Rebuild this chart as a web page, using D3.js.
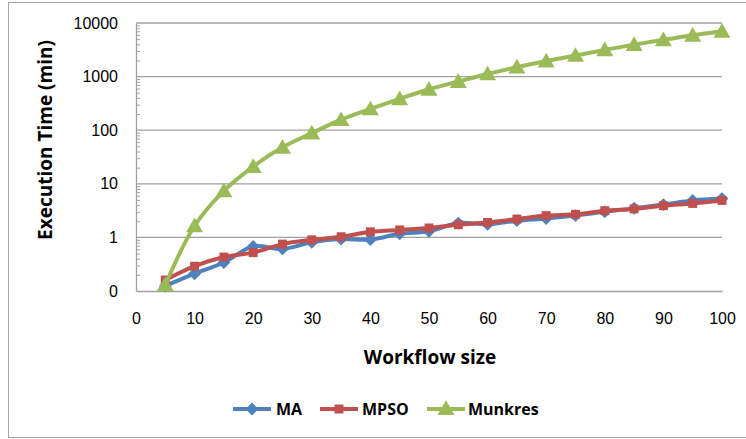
<!DOCTYPE html>
<html>
<head>
<meta charset="utf-8">
<script src="https://cdn.jsdelivr.net/npm/d3@7"></script>
<style>
  html, body { margin: 0; padding: 0; background: #fff; }
  svg { display: block; font-family: "Open Sans", "Liberation Sans", sans-serif; }
</style>
</head>
<body>
<svg id="chart" width="746" height="439"></svg>
<script>
// Workflow sizes on the x axis
const workflowSizes = [5, 10, 15, 20, 25, 30, 35, 40, 45, 50, 55, 60, 65, 70, 75, 80, 85, 90, 95, 100];

// Execution time (minutes) for each algorithm
const maValues      = [0.124, 0.21, 0.34, 0.68, 0.61, 0.81, 0.93, 0.91, 1.17, 1.3, 1.85, 1.75, 2.05, 2.25, 2.55, 3.0, 3.5, 4.1, 4.9, 5.3];
const mpsoValues    = [0.16, 0.29, 0.43, 0.52, 0.75, 0.9, 1.03, 1.27, 1.38, 1.5, 1.72, 1.9, 2.2, 2.55, 2.7, 3.15, 3.4, 3.9, 4.3, 4.9];
const munkresValues = [0.13, 1.65, 7.4, 21, 48, 88, 157, 249, 385, 580, 810, 1120, 1500, 1950, 2480, 3150, 3950, 4850, 5900, 7000];

// Axis ticks
const xTicks = [0, 10, 20, 30, 40, 50, 60, 70, 80, 90, 100];
const yTicks = [0.1, 1, 10, 100, 1000, 10000];
const yTickLabels = ["0", "1", "10", "100", "1000", "10000"];

const seriesNames = ["MA", "MPSO", "Munkres"];
const seriesColors = ["#4F81BD", "#C0504D", "#9BBB59"];

const svg = d3.select("#chart");

// outer chart frame
svg.append("rect")
  .attr("x", 8.5).attr("y", 2.5)
  .attr("width", 745).attr("height", 435)
  .attr("fill", "#fff").attr("stroke", "#A6A6A6").attr("stroke-width", 1);

const plot = { left: 136, right: 722, top: 23, bottom: 291 };

const x = d3.scaleLinear().domain([0, 100]).range([plot.left, plot.right]);
const y = d3.scaleLog().domain([0.1, 10000]).range([plot.bottom, plot.top]);

// horizontal gridlines at each decade
svg.append("g")
  .selectAll("line")
  .data(yTicks.slice(1))
  .join("line")
  .attr("x1", plot.left).attr("x2", plot.right)
  .attr("y1", d => y(d)).attr("y2", d => y(d))
  .attr("stroke", "#A0A0A0").attr("stroke-width", 1.3);

// y axis with minor log ticks pointing inwards
const minor = [];
for (let e = -1; e < 4; e++) {
  for (let m = 2; m <= 9; m++) minor.push(m * Math.pow(10, e));
}
const yAxisMinor = d3.axisRight(y).tickValues(minor).tickSize(4).tickFormat("");
const gMinor = svg.append("g").attr("transform", `translate(${plot.left},0)`).call(yAxisMinor);
gMinor.select(".domain").remove();
gMinor.selectAll("line").attr("stroke", "#A0A0A0");

const yAxis = d3.axisLeft(y)
  .tickValues(yTicks)
  .tickSize(0)
  .tickPadding(18)
  .tickFormat((d, i) => yTickLabels[i]);
const gy = svg.append("g").attr("transform", `translate(${plot.left},0)`).call(yAxis);
gy.select(".domain").attr("stroke", "#A0A0A0").attr("stroke-width", 1.3);
gy.selectAll("text").attr("font-size", 16).attr("fill", "#000")
  .style("font-family", "'Liberation Sans', sans-serif");

// x axis
const xAxis = d3.axisBottom(x).tickValues(xTicks).tickSize(0).tickPadding(22);
const gx = svg.append("g").attr("transform", `translate(0,${plot.bottom})`).call(xAxis);
gx.select(".domain").attr("stroke", "#A0A0A0").attr("stroke-width", 1.3);
gx.selectAll("text").attr("font-size", 16).attr("fill", "#000")
  .style("font-family", "'Liberation Sans', sans-serif");

// axis titles
svg.append("text")
  .attr("transform", `translate(52,140) rotate(-90)`)
  .attr("text-anchor", "middle")
  .attr("font-size", 19).attr("font-weight", "bold")
  .text("Execution Time (min)");

svg.append("text")
  .attr("x", 430).attr("y", 364)
  .attr("text-anchor", "middle")
  .attr("font-size", 19).attr("font-weight", "bold")
  .text("Workflow size");

// marker shapes
const markerSymbols = [
  d3.symbol().type(d3.symbolDiamond2).size(105),
  d3.symbol().type(d3.symbolSquare).size(80),
  d3.symbol().type(d3.symbolTriangle).size(125)
];

const allSeries = [maValues, mpsoValues, munkresValues];
const line = d3.line()
  .x((d, i) => x(workflowSizes[i]))
  .y(d => y(d))
  .curve(d3.curveCatmullRom.alpha(0.5));

allSeries.forEach((vals, s) => {
  const g = svg.append("g");
  g.append("path")
    .datum(vals)
    .attr("d", line)
    .attr("fill", "none")
    .attr("stroke", seriesColors[s])
    .attr("stroke-width", 4)
    .attr("stroke-linejoin", "round");
  g.selectAll("path.m")
    .data(vals)
    .join("path")
    .attr("class", "m")
    .attr("transform", (d, i) => `translate(${x(workflowSizes[i])},${y(d) + (s === 2 ? 1.5 : 0)})`)
    .attr("d", markerSymbols[s]())
    .attr("fill", seriesColors[s]);
});

// legend
const legendItems = [
  { lx: 233, tx: 276 },
  { lx: 320, tx: 362 },
  { lx: 427, tx: 468 }
];
const legendY = 409;
legendItems.forEach((it, s) => {
  const g = svg.append("g");
  g.append("line")
    .attr("x1", it.lx).attr("x2", it.lx + 38)
    .attr("y1", legendY).attr("y2", legendY)
    .attr("stroke", seriesColors[s]).attr("stroke-width", 4);
  g.append("path")
    .attr("transform", `translate(${it.lx + 19},${legendY + (s === 2 ? 1 : 0)})`)
    .attr("d", markerSymbols[s]())
    .attr("fill", seriesColors[s]);
  g.append("text")
    .attr("x", it.tx).attr("y", legendY + 6)
    .attr("font-size", 16).attr("font-weight", "bold")
    .text(seriesNames[s]);
});
</script>
</body>
</html>
